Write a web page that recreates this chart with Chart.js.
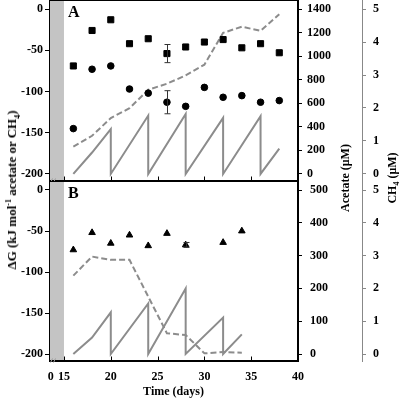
<!DOCTYPE html>
<html><head><meta charset="utf-8">
<script src="https://cdn.jsdelivr.net/npm/chart.js@4.4.0/dist/chart.umd.min.js"></script>
<style>
html,body{margin:0;padding:0;background:#fff;}
#wrap{position:relative;width:400px;height:400px;overflow:hidden;font-family:'Liberation Serif','Times New Roman',serif;font-weight:bold;}
canvas{position:absolute;left:0;}
.t{position:absolute;white-space:nowrap;color:#000;}
.vt{transform:translate(-50%,-50%) rotate(-90deg);font-size:12px;}
sub,sup{font-size:8px;line-height:0;}
</style></head><body>
<div id="wrap">
<canvas id="cA" width="400" height="182" style="top:-1px"></canvas>
<canvas id="cB" width="400" height="220" style="top:180px"></canvas>
<div class="t vt" style="left:12px;top:190px;font-size:13px">ΔG (kJ mol<sup>-1</sup> acetate or CH<sub>4</sub>)</div>
<div class="t vt" style="left:345px;top:178px">Acetate (μM)</div>
<div class="t vt" style="left:392px;top:178px">CH<sub>4</sub> (μM)</div>
<div class="t" style="left:68px;top:4px;font-size:16px;line-height:1">A</div>
<div class="t" style="left:68px;top:185px;font-size:16px;line-height:1">B</div>
</div>
<script>
// ---------- data ----------
const days = [16, 18, 20, 22, 24, 26, 28, 30, 32, 34, 36, 38];
const squaresA = [-69, -26, -13, -42, -36, -54, -46, -40, -37, -47, -42, -53];
const squaresAErr = [0, 0, 0, 0, 0, 11, 0, 0, 0, 0, 0, 0];
const circlesA = [-145, -73, -69, -97, -102, -113, -118, -95, -107, -105, -113, -111];
const circlesAErr = [0, 0, 0, 0, 0, 14, 0, 0, 0, 0, 0, 0];
const acetateA = [233, 324, 475, 558, 715, 766, 837, 928, 1198, 1250, 1215, 1355];
const ch4DaysA = [16, 18, 20, 20, 24, 24, 28, 28, 32, 32, 36, 36, 38];
const ch4A = [0, 0.65, 1.36, 0, 1.77, 0, 1.82, 0, 1.70, 0, 1.75, 0, 0.77];

const triDaysB = [16, 18, 20, 22, 24, 26, 28, 32, 34];
const trianglesB = [-73, -52, -65, -55, -68, -53, -67, -64, -50];
const trianglesBErr = [0, 0, 0, 0, 0, 0, 3, 0, 0];
const acetateDaysB = [16, 18, 20, 22, 24, 26, 28, 30, 32, 34];
const acetateB = [239, 297, 287, 287, 175, 63, 58, 2, 6, 4];
const ch4DaysB = [16, 18, 20, 20, 24, 24, 28, 28, 32, 32, 34];
const ch4B = [0, 0.5, 1.27, 0, 1.54, 0, 2.0, 0, 1.11, 0, 0.6];

const xTicks = [0, 15, 20, 25, 30, 35, 40];
const dgTicks = [0, -50, -100, -150, -200];
const acetateTicksA = [0, 200, 400, 600, 800, 1000, 1200, 1400];
const acetateTicksB = [0, 100, 200, 300, 400, 500];
const ch4Ticks = [0, 1, 2, 3, 4, 5];

// ---------- helpers ----------
Chart.defaults.font.family = "'Liberation Serif', 'Times New Roman', serif";
Chart.defaults.font.weight = 'bold';
Chart.defaults.font.size = 12;
Chart.defaults.color = '#000';
const LINE = '#8c8c8c';

function pad(lo, hi) { const s = hi - lo; return { min: lo - s * 7 / 164, max: hi + s * 9 / 164 }; }
function pts(xs, ys) { return xs.map((x, i) => ({ x: x, y: ys[i] })); }
function fixTicks(vals) { return s => { s.ticks = vals.map(v => ({ value: v })); }; }

function makePanelPlugin(errors) {
  return {
    id: 'panel',
    beforeDatasetsDraw(chart) {
      const { ctx, chartArea: a, scales: { x } } = chart;
      ctx.save();
      ctx.fillStyle = '#c4c4c4';
      ctx.fillRect(a.left, a.top, x.getPixelForValue(15) - a.left, a.bottom - a.top);
      ctx.restore();
    },
    afterDatasetsDraw(chart) {
      const { ctx, chartArea: a, scales: { x } } = chart;
      ctx.save();
      ctx.strokeStyle = '#333'; ctx.lineWidth = 1;
      errors.forEach(e => {
        const ys = chart.scales[e.axis];
        e.xs.forEach((d, i) => {
          const err = e.err[i]; if (!err) return;
          const px = Math.round(x.getPixelForValue(d)) + 0.5;
          const y1 = ys.getPixelForValue(e.ys[i] + err), y2 = ys.getPixelForValue(e.ys[i] - err);
          ctx.beginPath();
          ctx.moveTo(px, y1); ctx.lineTo(px, y2);
          ctx.moveTo(px - 3, y1); ctx.lineTo(px + 3, y1);
          ctx.moveTo(px - 3, y2); ctx.lineTo(px + 3, y2);
          ctx.stroke();
        });
      });
      ctx.strokeStyle = '#000';
      const L = Math.round(a.left) + 0.5, T = Math.round(a.top) + 0.5, R = Math.round(a.right) - 0.5, B = Math.round(a.bottom) - 0.5;
      ctx.strokeRect(L, T, R - L, B - T);
      ctx.beginPath();
      [15, 20, 25, 30, 35].forEach(d => { const px = Math.round(x.getPixelForValue(d)) + 0.5; ctx.moveTo(px, B); ctx.lineTo(px, B - 4); });
      ctx.stroke();
      ctx.strokeStyle = '#999';
      ctx.beginPath();
      ctx.moveTo(L + 1, B + 2); ctx.lineTo(L + 3, B - 2);
      ctx.moveTo(L + 4, B + 2); ctx.lineTo(L + 6, B - 2);
      ctx.stroke();
      ctx.restore();
    }
  };
}

function yScale(position, ticks, lo, hi, width, o) {
  o = o || {};
  const col = o.color || '#000';
  return Object.assign({
    type: 'linear', position: position,
    afterBuildTicks: fixTicks(ticks),
    afterFit: s => { s.width = width; s.paddingTop = 0; s.paddingBottom = 0; },
    grid: { display: true, drawOnChartArea: false, drawTicks: true, tickLength: 4, color: col },
    border: { display: true, color: col, width: 1 },
    ticks: { padding: o.padding == null ? 2 : o.padding, crossAlign: 'near', color: '#000',
      callback: v => String(v), font: { size: 12, weight: 'bold' } }
  }, pad(lo, hi));
}

function xScale(show) {
  return {
    type: 'linear', min: 13.4, max: 40, display: show,
    afterBuildTicks: s => { s.ticks = xTicks.map(v => ({ value: v === 0 ? 13.6 : v })); },
    afterFit: s => { s.height = show ? 39 : 0; s.paddingLeft = 0; s.paddingRight = 0; },
    grid: { display: true, drawOnChartArea: false, drawTicks: false, color: '#000' },
    border: { display: true, color: '#000' },
    ticks: { autoSkip: false, maxRotation: 0, padding: 9, color: '#000', callback: (v, i) => String(xTicks[i]), font: { size: 12, weight: 'bold' } },
    title: { display: true, text: 'Time (days)', padding: { top: 0, bottom: 1 }, color: '#000', font: { size: 12, weight: 'bold' } }
  };
}

function markers(data, style, r) {
  return { data: data, yAxisID: 'y', showLine: false, pointStyle: style, pointRadius: r,
    backgroundColor: '#000', borderColor: '#000', borderWidth: 1, pointHoverRadius: r };
}
function line(data, axis, dash) {
  return { data: data, yAxisID: axis, showLine: true, borderColor: LINE, borderWidth: 2,
    borderDash: dash || [], pointRadius: 0, tension: 0, fill: false };
}

const common = {
  animation: false, responsive: false, events: [],
  plugins: { legend: { display: false }, tooltip: { enabled: false } }
};

new Chart(document.getElementById('cA'), {
  type: 'scatter',
  data: { datasets: [
    markers(pts(days, squaresA), 'rect', 4.3),
    markers(pts(days, circlesA), 'circle', 3.3),
    line(pts(days, acetateA), 'yA', [6, 3]),
    line(pts(ch4DaysA, ch4A), 'yC')
  ] },
  options: Object.assign({}, common, {
    layout: { autoPadding: false, padding: { top: 1, bottom: 0, left: 0, right: 0 } },
    scales: {
      x: xScale(false),
      y: yScale('left', dgTicks, -200, 0, 49),
      yA: yScale('right', acetateTicksA, 0, 1400, 64, { padding: 5 }),
      yC: yScale('right', ch4Ticks, 0, 5, 38, { color: '#888', padding: 7 })
    }
  }),
  plugins: [makePanelPlugin([
    { axis: 'y', xs: days, ys: squaresA, err: squaresAErr },
    { axis: 'y', xs: days, ys: circlesA, err: circlesAErr }
  ])]
});

new Chart(document.getElementById('cB'), {
  type: 'scatter',
  data: { datasets: [
    markers(pts(triDaysB, trianglesB), 'triangle', 3.8),
    line(pts(acetateDaysB, acetateB), 'yA', [6, 3]),
    line(pts(ch4DaysB, ch4B), 'yC')
  ] },
  options: Object.assign({}, common, {
    layout: { autoPadding: false, padding: { top: 1, bottom: 0, left: 0, right: 0 } },
    scales: {
      x: xScale(true),
      y: yScale('left', dgTicks, -200, 0, 49),
      yA: yScale('right', acetateTicksB, 0, 500, 64, { padding: 8 }),
      yC: yScale('right', ch4Ticks, 0, 5, 38, { color: '#888', padding: 7 })
    }
  }),
  plugins: [makePanelPlugin([
    { axis: 'y', xs: triDaysB, ys: trianglesB, err: trianglesBErr }
  ])]
});
</script>
</body></html>
